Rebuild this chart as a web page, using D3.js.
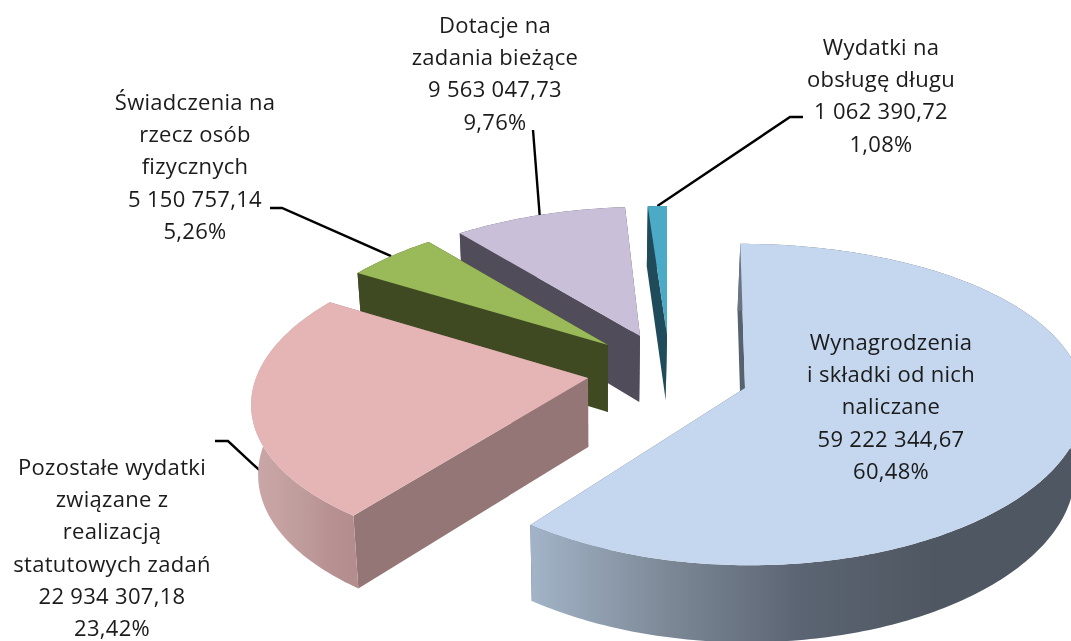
<!DOCTYPE html>
<html><head><meta charset="utf-8">
<script src="https://cdnjs.cloudflare.com/ajax/libs/d3/7.8.5/d3.min.js"></script>
<style>html,body{margin:0;padding:0;background:#fff;overflow:hidden}svg{display:block}</style>
</head><body><svg id="c" width="1071" height="641"></svg>
<script>
// --- data ---
const categories = ["Wynagrodzenia i składki od nich naliczane","Pozostałe wydatki związane z realizacją statutowych zadań","Świadczenia na rzecz osób fizycznych","Dotacje na zadania bieżące","Wydatki na obsługę długu"];
const values = [59222344.67, 22934307.18, 5150757.14, 9563047.73, 1062390.72];
const percents = ["60,48%","23,42%","5,26%","9,76%","1,08%"];
const labelLines = [
  ["Wynagrodzenia","i składki od nich","naliczane"],
  ["Pozostałe wydatki","związane z","realizacją","statutowych zadań"],
  ["Świadczenia na","rzecz osób","fizycznych"],
  ["Dotacje na","zadania bieżące"],
  ["Wydatki na","obsługę długu"]
];
// --- appearance ---
const faceColors = ["#c5d7ef","#e4b5b4","#9ab958","#c9bfd9","#4baac6"];
const wallColors = ["#566270","#947676","#3f4a22","#504c5a","#1f4b5a"];
const wallGradients = [
  ["#a3b4c8","#7d8997","#5b6472","#4f5762","#4f5762"],
  ["#cba8a8","#c6a2a2","#bf9c9c","#b89292","#b48e8e"],
  ["#3f4a22","#3f4a22"],["#504c5a","#504c5a"],["#1f4b5a","#1f4b5a"]];
// --- 3-D pie layout: exploded centre, radii and perspective for each slice ---
const centreX = [745,588,608,640,667];
const centreY = [388,378,345,336,335];
const radiusX = [338,332,322,330,330];
const radiusY = [159,154,142.5,144.5,144.5];
const perspY  = [.103,.145,.095,.12,.12];
const perspX  = [.07,.17,.17,.17,.17];
const shear   = [-5,0,0,5,0];
const depth   = [72,69,67,66,65];
const vanishX = 600, bottomShrink = .98, depthGrowth = .07;
const drawOrder = [4,3,2,1,0];
// --- labels ---
const labelX = [891,112,195,495,881];
const labelY = [342,467,102,25,47];
const lineGap = 32.2;
const leaderStart = [null,[[215,441],[228,441]],[[270,208],[282,208]],[[533,130]],[[803,117],[790,117]]];
const leaderAngle = [null,243,null,null,null];
const leaderDrop  = [0,.36,0,0,0];

const deg = Math.PI/180;
const svg = d3.select("#c");
const pie = d3.pie().sort(null).startAngle(0).endAngle(2*Math.PI)(values);

function topPoint(i,a){
  const s=Math.sin(a),c=Math.cos(a);
  return [centreX[i]+(radiusX[i]*s+shear[i]*c)/(1+perspX[i]*c),
          centreY[i]-radiusY[i]*c/(1+perspY[i]*c)];
}
function bottomPoint(i,p,a){
  const c=a==null?0:Math.cos(a);
  return [vanishX+(p[0]-vanishX)*bottomShrink, p[1]+depth[i]*(1-depthGrowth*c)];
}
const apexTop = i=>[centreX[i],centreY[i]];
const apexBottom = i=>bottomPoint(i,apexTop(i));
const line = d3.line();
const defs = svg.append("defs");
const fmt = d3.formatLocale({decimal:",",thousands:" ",grouping:[3],currency:["",""]}).format(",.2f");
defs.append("filter").attr("id","soft").append("feGaussianBlur").attr("stdDeviation",.35);

// leaders go under the slices, which hide their ends
const leaderG = svg.append("g");
pie.forEach((d,i)=>{
  if(!leaderStart[i]) return;
  const a=leaderAngle[i]!=null?leaderAngle[i]*deg:(d.startAngle+d.endAngle)/2;
  let p=topPoint(i,a);
  if(leaderDrop[i]) p=[p[0],p[1]+depth[i]*leaderDrop[i]];
  leaderG.append("path").attr("d",line(leaderStart[i].concat([p])))
    .attr("fill","none").attr("stroke","#000").attr("stroke-width",2.4);
});

function slice(i){
  const d=pie[i], n=Math.max(8,Math.ceil((d.endAngle-d.startAngle)/deg));
  const angs=d3.range(n+1).map(k=>d.startAngle+(d.endAngle-d.startAngle)*k/n);
  const tops=angs.map(a=>topPoint(i,a)), bots=angs.map((a,k)=>bottomPoint(i,tops[k],a));
  const xs=tops.map(p=>p[0]);
  const g=svg.append("g").attr("class","slice");
  const gid="wall"+i, x0=d3.min(xs), x1=Math.min(d3.max(xs),1071);
  const stops=wallGradients[i];
  const grad=defs.append("linearGradient").attr("id",gid).attr("gradientUnits","userSpaceOnUse")
    .attr("x1",x0).attr("x2",x1).attr("y1",0).attr("y2",0);
  stops.forEach((c,k)=>grad.append("stop").attr("offset",k/(stops.length-1)).attr("stop-color",c));
  const wall=(p,a)=>line([apexTop(i),p,bottomPoint(i,p,a),apexBottom(i)])+"Z";
  g.append("path").attr("d",wall(tops[n],angs[n])).attr("fill",wallColors[i]);
  g.append("path").attr("d",wall(tops[0],angs[0])).attr("fill",wallColors[i]);
  g.append("path").attr("d",line(tops.concat(bots.slice().reverse()))+"Z").attr("fill",`url(#${gid})`);
  g.append("path").attr("d",line([apexTop(i)].concat(tops))+"Z").attr("fill",faceColors[i]);
}
drawOrder.forEach(slice);

// labels
const labels=svg.append("g").attr("font-family","'Open Sans', Lato, sans-serif").attr("font-size",22)
  .attr("letter-spacing",.3).attr("fill","#1a1a1a").attr("text-anchor","middle").attr("filter","url(#soft)");
pie.forEach((d,i)=>{
  const rows=labelLines[i].concat([fmt(values[i]),percents[i]]);
  rows.forEach((t,k)=>labels.append("text").attr("x",labelX[i]).attr("y",labelY[i]+k*lineGap).attr("dy","0.36em").text(t));
});
</script></body></html>
